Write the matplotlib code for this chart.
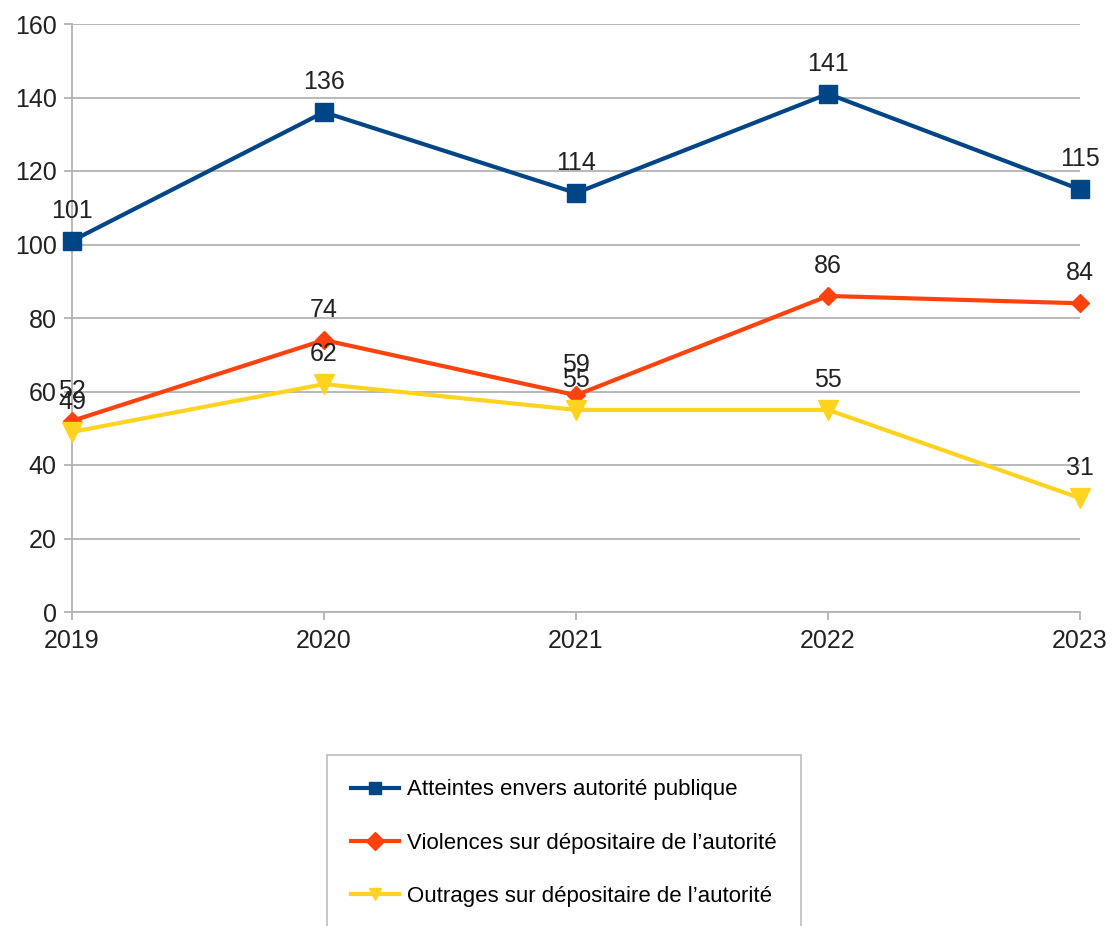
import matplotlib

matplotlib.use("Agg")
import matplotlib.pyplot as plt

years = ["2019", "2020", "2021", "2022", "2023"]
atteintes = [101, 136, 114, 141, 115]
violences = [52, 74, 59, 86, 84]
outrages = [49, 62, 55, 55, 31]
labels = [
    "Atteintes envers autorité publique",
    "Violences sur dépositaire de l’autorité",
    "Outrages sur dépositaire de l’autorité",
]

plt.rcParams["font.family"] = ["Liberation Sans", "DejaVu Sans"]

fig = plt.figure(figsize=(11.13, 9.26), dpi=100)
ax = fig.add_axes([72 / 1113, 1 - 612 / 926, (1080 - 72) / 1113, (612 - 24) / 926])

x = list(range(len(years)))
series = [
    (atteintes, "#004586", "s", 13),
    (violences, "#ff420e", "D", 9),
    (outrages, "#ffd320", "v", 14),
]
for (vals, color, mk, ms), lab in zip(series, labels):
    ax.plot(x, vals, color=color, lw=3, marker=mk, markersize=ms,
            label=lab, clip_on=False, zorder=3)
    for xi, v in zip(x, vals):
        ax.annotate(str(v), (xi, v), xytext=(0, 13), textcoords="offset points",
                    ha="center", va="bottom", fontsize=18, color="#222222", zorder=4)

ax.set_xlim(0, len(years) - 1)
ax.set_ylim(0, 160)
ax.set_yticks(range(0, 161, 20))
ax.set_xticks(x)
ax.set_xticklabels(years)
ax.grid(axis="y", color="#b3b3b3", lw=1.3)
ax.set_axisbelow(True)
for s in ["top", "right"]:
    ax.spines[s].set_visible(False)
for s in ["left", "bottom"]:
    ax.spines[s].set_color("#b3b3b3")
    ax.spines[s].set_linewidth(1.3)
ax.tick_params(axis="both", colors="#b3b3b3", length=6, width=1.3,
               labelsize=18, labelcolor="#222222")
ax.tick_params(axis="y", pad=5)
ax.tick_params(axis="x", pad=6)

leg = fig.legend(loc="upper left", bbox_to_anchor=(327 / 1113, 1 - 755 / 926),
                 frameon=True, fancybox=False, edgecolor="#b3b3b3",
                 prop={"size": 16}, handlelength=2.15,
                 handletextpad=0.36, labelspacing=1.45, borderpad=1.1,
                 borderaxespad=0)
leg.get_frame().set_linewidth(1.3)
for h in leg.legend_handles:
    h.set_markersize(9)

fig.savefig("out.png", dpi=100)
